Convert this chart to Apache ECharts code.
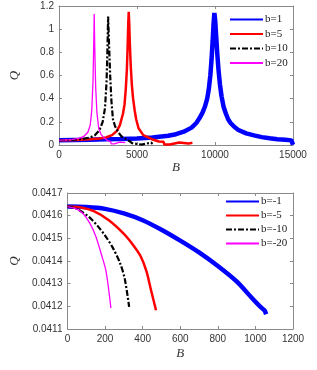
<!DOCTYPE html>
<html>
<head>
<meta charset="utf-8">
<script src="https://cdn.jsdelivr.net/npm/echarts@6/dist/echarts.min.js"></script>
<style>
html,body{margin:0;padding:0;background:#fff;}
#c{width:317px;height:370px;}
</style>
</head>
<body>
<div id="c"></div>
<script>
// ---- top panel data (B, Q) ----
const topNames = ['b=1', 'b=5', 'b=10', 'b=20'];
const b1 = [[0,0.042],[1000,0.044],[2000,0.046],[3000,0.049],[4000,0.052],[5000,0.057],[6000,0.065],[7000,0.08],[7500,0.093],[8000,0.115],[8500,0.15],[8800,0.19],[9000,0.23],[9200,0.28],[9350,0.33],[9500,0.40],[9600,0.48],[9700,0.60],[9780,0.74],[9850,0.90],[9910,1.05],[9960,1.14],[10010,1.08],[10070,0.95],[10150,0.78],[10230,0.64],[10320,0.52],[10420,0.42],[10550,0.33],[10700,0.27],[10850,0.22],[11000,0.19],[11250,0.155],[11500,0.13],[12000,0.10],[12500,0.083],[13000,0.068],[13500,0.058],[14000,0.05],[14500,0.045],[14900,0.04],[15000,0.003]];
const b5 = [[0,0.042],[1000,0.044],[2000,0.05],[2600,0.056],[3000,0.065],[3400,0.085],[3700,0.12],[3900,0.17],[4100,0.27],[4200,0.35],[4280,0.48],[4350,0.65],[4400,0.85],[4440,1.05],[4470,1.15],[4500,1.06],[4540,0.88],[4600,0.68],[4670,0.52],[4750,0.40],[4850,0.30],[4950,0.22],[5100,0.145],[5400,0.085],[5950,0.05],[6400,0.03],[6700,0.028],[6750,0.005],[7100,0.005],[7150,0.022],[7700,0.022],[7750,0.015],[8000,0.018],[8300,0.012],[8550,0.02]];
const b10 = [[0,0.042],[800,0.044],[1500,0.052],[2000,0.065],[2300,0.085],[2600,0.13],[2800,0.2],[2950,0.32],[3050,0.55],[3110,0.85],[3150,1.11],[3200,0.9],[3280,0.6],[3360,0.38],[3460,0.22],[3600,0.16],[3800,0.11],[4000,0.075],[4260,0.055],[4500,0.035],[4700,0.015],[4800,0.003],[5300,0.003],[5400,0.02],[5900,0.02],[6000,0.01]];
const b20 = [[0,0.042],[800,0.046],[1300,0.06],[1600,0.075],[1850,0.11],[2000,0.17],[2100,0.3],[2180,0.55],[2230,0.9],[2257,1.13],[2290,0.85],[2350,0.5],[2430,0.28],[2550,0.14],[2700,0.09],[2900,0.06],[3100,0.04],[3300,0.03],[3350,0.01],[3550,0.01],[3600,0.025],[3900,0.025],[4000,0.015],[4250,0.02]];

// ---- bottom panel data (B, Q) ----
const botNames = ['b=-1', 'b=-5', 'b=-10', 'b=-20'];
const bm1 = [[0,0.04164],[100,0.041638],[200,0.04163],[300,0.04161],[400,0.04158],[500,0.041538],[600,0.04149],[700,0.041438],[800,0.041378],[900,0.04131],[980,0.041238],[1030,0.041195],[1045,0.041185],[1050,0.04118],[1057,0.041165]];
const bm5 = [[0,0.04164],[70,0.041636],[140,0.04162],[220,0.04158],[300,0.04152],[350,0.04147],[390,0.04142],[420,0.041355],[445,0.04127],[471,0.041183]];
const bm10 = [[0,0.04164],[40,0.041633],[80,0.041615],[120,0.04159],[160,0.041555],[200,0.041512],[240,0.04146],[280,0.04139],[305,0.04132],[328,0.041198]];
const bm20 = [[0,0.04164],[40,0.041632],[80,0.041612],[120,0.041565],[150,0.04151],[180,0.04143],[205,0.041355],[231,0.041192]];

const colors = ['#0000ff', '#ff0000', '#000000', '#ff00ff'];
const widths = [4.5, 2.5, 2.2, 1.3];
const types = ['solid', 'solid', [6, 2, 2, 2], 'solid'];

const axisCol = '#8a8a8a';
const labelFont = {fontFamily: 'Liberation Sans', fontSize: 10, color: '#333'};
const nameFont = {fontFamily: 'Liberation Serif', fontStyle: 'italic', fontSize: 13, color: '#333'};
const plain = function (v) { return String(v); };

function xAx(gi, min, max, interval, pos, showLab, gap) {
  return {
    type: 'value', gridIndex: gi, min: min, max: max, interval: interval, position: pos,
    name: showLab ? 'B' : '', nameLocation: 'middle', nameGap: gap, nameTextStyle: nameFont,
    axisLine: {show: true, onZero: false, lineStyle: {color: axisCol, width: 1}},
    axisTick: {show: true, inside: true, length: 3, lineStyle: {color: axisCol}},
    axisLabel: Object.assign({show: showLab, margin: 5, formatter: plain}, labelFont),
    splitLine: {show: false}
  };
}
function yAx(gi, min, max, interval, pos, showLab, fmt) {
  return {
    type: 'value', gridIndex: gi, min: min, max: max, interval: interval, position: pos,
    name: showLab ? 'Q' : '', nameLocation: 'middle', nameGap: 38, nameTextStyle: nameFont,
    axisLine: {show: true, onZero: false, lineStyle: {color: axisCol, width: 1}},
    axisTick: {show: true, inside: true, length: 3, lineStyle: {color: axisCol}},
    axisLabel: Object.assign({show: showLab, margin: 5, formatter: fmt}, labelFont),
    splitLine: {show: false}
  };
}

function mk(name, data, i, xi, yi, smooth) {
  return {
    name: name, type: 'line', data: data, xAxisIndex: xi, yAxisIndex: yi,
    showSymbol: false, symbol: 'none', smooth: smooth, animation: false,
    lineStyle: {color: colors[i], width: widths[i], type: types[i]},
    itemStyle: {color: colors[i]}
  };
}

const legendCommon = {
  orient: 'vertical', itemWidth: 33, itemHeight: 10, padding: 0,
  itemStyle: {opacity: 0, borderWidth: 0},
  textStyle: {fontFamily: 'Liberation Serif', fontSize: 11, color: '#222', padding: [0, 0, 0, -3]}
};

const chart = echarts.init(document.getElementById('c'), null, {renderer: 'canvas'});
chart.setOption({
  animation: false,
  backgroundColor: '#fff',
  grid: [
    {left: 56, right: 24, top: 6, height: 139},
    {left: 56, right: 24, top: 193, height: 136}
  ],
  xAxis: [
    xAx(0, 0, 15000, 5000, 'bottom', true, 12),
    xAx(0, 0, 15000, 5000, 'top', false, 0),
    xAx(1, 0, 1200, 200, 'bottom', true, 18),
    xAx(1, 0, 1200, 200, 'top', false, 0)
  ],
  yAxis: [
    yAx(0, 0, 1.2, 0.2, 'left', true, function (v) { return String(Math.round(v * 10) / 10); }),
    yAx(0, 0, 1.2, 0.2, 'right', false),
    yAx(1, 0.0411, 0.0417, 0.0001, 'left', true, function (v) { return v.toFixed(4); }),
    yAx(1, 0.0411, 0.0417, 0.0001, 'right', false)
  ],
  legend: [
    Object.assign({data: topNames, left: 229, top: 14, itemGap: 3.5}, legendCommon),
    Object.assign({data: botNames, left: 225, top: 196, itemGap: 3}, legendCommon)
  ],
  series: [
    mk(topNames[0], b1, 0, 0, 0, false),
    mk(topNames[1], b5, 1, 0, 0, false),
    mk(topNames[2], b10, 2, 0, 0, false),
    mk(topNames[3], b20, 3, 0, 0, false),
    mk(botNames[0], bm1, 0, 2, 2, 0.3),
    mk(botNames[1], bm5, 1, 2, 2, 0.3),
    mk(botNames[2], bm10, 2, 2, 2, 0.3),
    mk(botNames[3], bm20, 3, 2, 2, 0.3)
  ]
});
</script>
</body>
</html>
